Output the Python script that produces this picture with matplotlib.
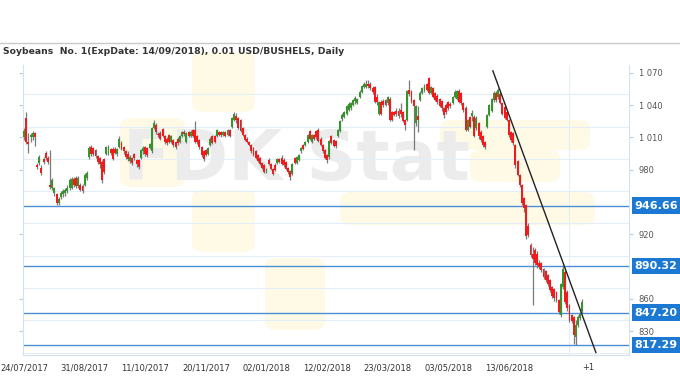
import numpy as np
import matplotlib.pyplot as plt
from matplotlib.lines import Line2D
from matplotlib.patches import FancyBboxPatch

# daily candles, 24/07/2017 .. mid 07/2018 (trading-day index)
opens = [
    1010, 1028, 1006, 1010, 1010, 1014, 984, 986, 982, 990, 996, 991, 966, 963, 958, 957, 949, 955, 957, 958,
    960, 963, 963, 971, 972, 965, 966, 965, 966, 972, 992, 1001, 1000, 998, 993, 991, 987, 990, 995, 995,
    999, 999, 999, 995, 1001, 1005, 1001, 997, 995,
    988, 991, 995, 989, 989, 991, 997, 1001, 1000, 1000, 997, 1019, 1022, 1013, 1014, 1018, 1011, 1009, 1012, 1006,
    1008, 1006, 1009, 1006, 1011, 1015, 1006, 1015, 1011, 1017, 1017, 1011, 1008, 1001, 997, 998, 995, 1003, 1011, 1011,
    1011, 1015, 1015, 1012, 1015, 1012, 1017, 1020, 1026,
    1030, 1028, 1026, 1019, 1012, 1009, 1006, 1003, 1000, 997, 994, 991, 986, 984, 978, 989, 985, 981, 984, 986,
    990, 991, 989, 987, 982, 979, 976, 991, 986, 989, 997, 1003, 1003, 1006, 1016, 1006, 1012, 1016, 1017, 1009,
    1003, 998, 994, 992, 1011, 1008, 1007, 1011, 1016,
    1027, 1029, 1032, 1036, 1037, 1040, 1044, 1042, 1048, 1052, 1057, 1057, 1060, 1060, 1056, 1057, 1048, 1032, 1043, 1044,
    1045, 1042, 1046, 1034, 1034, 1035, 1035, 1036, 1034, 1026, 1026, 1054, 1053, 1045, 1023, 1030, 1045, 1051, 1053, 1060,
    1065, 1051, 1056, 1051, 1049, 1046, 1044, 1037, 1040, 1043, 1041, 1042,
    1048, 1046, 1053, 1051, 1042, 1037, 1017, 1029, 1030, 1029, 1019, 1023, 1015, 1011, 1006, 1020, 1031, 1035, 1045, 1051,
    1048, 1050, 1042, 1038, 1034, 1026, 1015, 1014, 1003, 988, 975, 966, 954, 947, 928, 910,
    902, 905, 902, 893, 893, 888, 886, 882, 877, 871, 869, 866, 859, 845, 871, 885, 866, 854, 845, 843,
    824, 836, 842, 849,
]
closes = [
    1016, 1006, 1004, 1012, 1014, 1010, 983, 992, 977, 987, 991, 987, 964, 970, 963, 949, 953, 958, 960, 961,
    963, 970, 971, 966, 965, 972, 961, 960, 975, 977, 1000, 995, 995, 993, 987, 985, 970, 978, 1001, 1001,
    996, 990, 996, 999, 1009, 999, 997, 992, 990,
    992, 986, 991, 985, 983, 998, 1000, 995, 994, 1004, 1019, 1023, 1015, 1012, 1009, 1011, 1006, 1005, 1006, 1011,
    1003, 1001, 1005, 1011, 1015, 1013, 1014, 1011, 1015, 1011, 1006, 1006, 1001, 994, 990, 994, 1000, 1009, 1005, 1006,
    1017, 1012, 1012, 1015, 1011, 1017, 1011, 1028, 1032,
    1026, 1019, 1016, 1012, 1008, 1006, 1003, 997, 994, 991, 988, 985, 982, 978, 981, 985, 981, 976, 980, 990,
    987, 985, 984, 981, 978, 973, 985, 986, 992, 994, 1000, 999, 1006, 1012, 1009, 1012, 1009, 1010, 1007, 1003,
    997, 991, 989, 1007, 1005, 1002, 1002, 1017, 1025,
    1031, 1034, 1039, 1041, 1042, 1045, 1047, 1046, 1052, 1058, 1060, 1060, 1058, 1056, 1052, 1043, 1043, 1043, 1032, 1040,
    1040, 1048, 1026, 1026, 1031, 1032, 1030, 1032, 1025, 1022, 1053, 1050, 1043, 1039, 1039, 1026, 1051, 1056, 1059, 1054,
    1051, 1057, 1048, 1045, 1043, 1039, 1037, 1031, 1034, 1037, 1039, 1048,
    1052, 1053, 1043, 1042, 1036, 1017, 1026, 1020, 1033, 1011, 1028, 1011, 1008, 1003, 1001, 1031, 1040, 1046, 1051, 1045,
    1054, 1042, 1032, 1028, 1026, 1012, 1008, 1005, 984, 975, 966, 949, 944, 918, 919, 901,
    897, 893, 891, 890, 887, 880, 877, 874, 868, 863, 861, 859, 848, 874, 888, 857, 851, 840, 839, 826,
    836, 843, 846, 857,
]
highs = [
    1019, 1034, 1014, 1014, 1016, 1015, 986, 994, 984, 992, 997, 993, 998, 972, 964, 958, 955, 960, 962, 963,
    966, 972, 973, 973, 974, 974, 968, 967, 977, 979, 1002, 1003, 1001, 999, 994, 992, 989, 991, 1002, 1003,
    1000, 1001, 1001, 1000, 1011, 1007, 1002, 998, 997,
    994, 992, 996, 990, 990, 999, 1002, 1002, 1001, 1005, 1020, 1026, 1023, 1015, 1016, 1019, 1012, 1010, 1013, 1012,
    1009, 1007, 1010, 1012, 1016, 1017, 1015, 1016, 1017, 1018, 1025, 1012, 1009, 1002, 998, 999, 1001, 1010, 1012, 1012,
    1018, 1016, 1016, 1016, 1016, 1018, 1018, 1029, 1034,
    1033, 1029, 1027, 1020, 1013, 1010, 1007, 1004, 1001, 998, 995, 992, 987, 985, 982, 991, 986, 982, 986, 991,
    991, 994, 991, 988, 983, 980, 986, 992, 993, 995, 1001, 1004, 1007, 1013, 1017, 1013, 1013, 1017, 1019, 1010,
    1004, 999, 995, 1008, 1012, 1009, 1008, 1018, 1026,
    1033, 1035, 1040, 1043, 1043, 1046, 1049, 1047, 1054, 1059, 1062, 1063, 1063, 1062, 1058, 1058, 1050, 1044, 1045, 1046,
    1046, 1049, 1048, 1035, 1035, 1037, 1037, 1042, 1035, 1027, 1054, 1063, 1054, 1046, 1040, 1039, 1053, 1057, 1060, 1061,
    1066, 1058, 1057, 1052, 1050, 1047, 1045, 1038, 1042, 1044, 1043, 1049,
    1054, 1054, 1055, 1052, 1043, 1039, 1027, 1030, 1036, 1031, 1030, 1024, 1017, 1012, 1007, 1032, 1041, 1047, 1053, 1053,
    1056, 1052, 1043, 1040, 1035, 1027, 1016, 1015, 1004, 989, 976, 967, 955, 948, 930, 912,
    908, 907, 904, 896, 894, 889, 887, 883, 878, 872, 870, 867, 860, 875, 891, 887, 868, 855, 846, 844,
    840, 845, 848, 860,
]
lows = [
    1008, 1004, 996, 1006, 1008, 1002, 981, 984, 975, 985, 989, 985, 962, 961, 956, 947, 947, 953, 955, 956,
    958, 961, 962, 964, 963, 963, 960, 958, 965, 970, 990, 993, 993, 991, 985, 982, 968, 976, 994, 994,
    994, 989, 995, 993, 1000, 998, 995, 990, 988,
    986, 984, 989, 983, 981, 990, 995, 993, 992, 999, 996, 1018, 1013, 1010, 1008, 1010, 1004, 1003, 1005, 1005,
    1001, 999, 1003, 1005, 1010, 1011, 1005, 1010, 1010, 1010, 1005, 1004, 999, 992, 988, 993, 994, 1002, 1004, 1005,
    1010, 1011, 1010, 1011, 1010, 1011, 1010, 1019, 1025,
    1023, 1018, 1015, 1011, 1007, 1005, 1002, 996, 993, 990, 987, 984, 981, 977, 977, 984, 980, 975, 979, 985,
    986, 984, 983, 980, 976, 970, 975, 985, 985, 988, 996, 998, 1002, 1005, 1008, 1005, 1008, 1009, 1006, 1002,
    996, 990, 986, 990, 1004, 1001, 1000, 1010, 1015,
    1025, 1028, 1031, 1035, 1036, 1039, 1041, 1041, 1047, 1051, 1056, 1056, 1056, 1054, 1050, 1042, 1040, 1031, 1031, 1038,
    1039, 1040, 1025, 1025, 1030, 1030, 1028, 1029, 1024, 1017, 1025, 1049, 1042, 998, 1021, 1015, 1044, 1050, 1052, 1053,
    1050, 1050, 1047, 1044, 1041, 1038, 1035, 1028, 1032, 1036, 1037, 1041,
    1047, 1045, 1042, 1040, 1034, 1016, 1016, 1019, 1025, 1010, 1017, 1009, 1006, 1001, 999, 1019, 1030, 1034, 1043, 1043,
    1046, 1041, 1031, 1027, 1025, 1010, 1006, 1003, 982, 974, 964, 947, 941, 916, 917, 899,
    854, 891, 889, 888, 885, 878, 876, 872, 866, 861, 858, 857, 846, 843, 869, 855, 849, 838, 837, 818,
    817, 834, 840, 847,
]

date_labels = ['24/07/2017', '31/08/2017', '11/10/2017', '20/11/2017', '02/01/2018',
               '12/02/2018', '23/03/2018', '03/05/2018', '13/06/2018']
label_step = 28
extra_label = '+1'
extra_pos = 260.5
levels = [946.66, 890.32, 847.20, 817.29]
price_ticks = [830, 860, 920, 980, 1010, 1040, 1070]
grid_prices = [810, 840, 870, 900, 930, 960, 990, 1020, 1050]
trend_x = [216.6, 264.2]
trend_y = [1072, 810]

W, H = 680, 380
fig = plt.figure(figsize=(W / 100, H / 100), dpi=100)
ax = fig.add_axes([23 / W, 1 - 355 / H, (629 - 23) / W, (355 - 65) / H])

# watermark (faint logo behind the candles)
for (x0, y0, x1, y1) in [(120, 118, 185, 187), (192, 52, 255, 112), (192, 190, 255, 252),
                         (265, 258, 325, 330), (340, 192, 595, 225), (470, 150, 560, 182),
                         (440, 120, 590, 150)]:
    fig.add_artist(FancyBboxPatch((x0 / W, 1 - y1 / H), (x1 - x0) / W, (y1 - y0) / H,
                                  boxstyle='round,pad=0,rounding_size=0.02',
                                  fc='#fefae6', ec='none', zorder=0))
ax.set_facecolor('none')
ax.text(0.452, 0.67, 'FDK Stat', transform=ax.transAxes, fontsize=50, fontweight='bold',
        color='#ececec', ha='center', va='center', zorder=0)

o = np.array(opens, float)
c = np.array(closes, float)
h = np.maximum(np.array(highs, float), np.maximum(o, c))
l = np.minimum(np.array(lows, float), np.minimum(o, c))
x = np.arange(len(c))
colors = np.where(c >= o, '#36952a', '#f21b1b')

ax.vlines(x, l, h, color='#7a7a7a', lw=0.9, zorder=3)
body = np.maximum(np.abs(c - o), 0.8)
ax.bar(x, body, bottom=np.minimum(o, c), width=0.9, color=colors, zorder=4)

for lv in levels:
    ax.axhline(lv, color='#4a8fd8', lw=1.0, zorder=2)
    ax.annotate(f'{lv:.2f}', xy=(1, lv), xycoords=('axes fraction', 'data'),
                xytext=(4.2, 0), textcoords='offset points', ha='left', va='center',
                color='white', fontsize=8, fontweight='bold', annotation_clip=False,
                bbox=dict(boxstyle='square,pad=0.28', fc='#1c79d3', ec='none'))

ax.plot(trend_x, trend_y, color='#222222', lw=1.0, zorder=5)

ax.set_xlim(-0.5, 279.5)
ax.set_ylim(807.7, 1077.4)

ax.yaxis.tick_right()
ax.set_yticks(price_ticks)
ax.set_yticklabels([f'{v:,}'.replace(',', ' ') for v in price_ticks])
ax.set_yticks(grid_prices, minor=True)
ax.tick_params(axis='y', which='major', left=True, right=True, labelleft=False, length=3,
               color='#b9cde2', labelsize=6, labelcolor='#555555', pad=4)
ax.tick_params(axis='y', which='minor', length=0)

tick_pos = [i * label_step for i in range(len(date_labels))]
ax.set_xticks(tick_pos + [extra_pos])
ax.set_xticklabels(date_labels + [extra_label])
ax.set_xticks(list(range(0, 253, label_step)), minor=True)
ax.tick_params(axis='x', which='both', length=0, labelsize=6, labelcolor='#333333', pad=6)

ax.grid(which='major', visible=False)
ax.grid(which='minor', axis='both', visible=True, color='#e4eef8', lw=0.8)

for s in ['left', 'right', 'bottom']:
    ax.spines[s].set_color('#d3e2f1')
ax.spines['top'].set_visible(False)

fig.add_artist(Line2D([0, 1], [1 - 43 / H] * 2, color='#c9c9c9', lw=1))
fig.text(3 / W, 1 - 52 / H, 'Soybeans  No. 1(ExpDate: 14/09/2018), 0.01 USD/BUSHELS, Daily',
         fontsize=6.7, fontweight='bold', color='#333333', va='center', ha='left')

fig.savefig('out.png', dpi=100)
